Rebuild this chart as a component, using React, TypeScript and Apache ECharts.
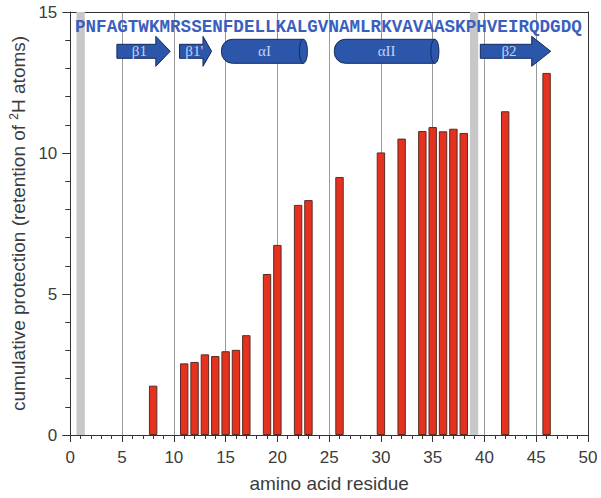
import React, { useEffect, useRef } from "react";
import * as echarts from "echarts";

// residue numbers and cumulative protection values
const residues = [8, 11, 12, 13, 14, 15, 16, 17, 19, 20, 22, 23, 26, 30, 32, 34, 35, 36, 37, 38, 42, 46];
const protection = [1.75, 2.54, 2.59, 2.86, 2.8, 2.97, 3.02, 3.54, 5.71, 6.74, 8.16, 8.33, 9.15, 10.02, 10.51, 10.78, 10.92, 10.77, 10.86, 10.71, 11.48, 12.84];

// shaded (proline) residues
const shadedResidues = [1, 39];

// sequence
const sequence = "PNFAGTWKMRSSENFDELLKALGVNAMLRKVAVAASKPHVEIRQDGDQ";

// secondary structure elements (residue ranges)
const ssStart = [4.5, 10.55, 14.6, 25.5, 39.6];
const ssEnd = [9.65, 13.65, 22.9, 35.6, 46.4];
const ssKind = ["strand", "strand", "helix", "helix", "strand"];
const ssLabel = ["β1", "β1'", "αI", "αII", "β2"];

const xTicks = [0, 5, 10, 15, 20, 25, 30, 35, 40, 45, 50];
const yTicks = [0, 5, 10, 15];

export default function App() {
  const ref = useRef<HTMLDivElement>(null);
  useEffect(() => {
    if (!ref.current) return;
    const chart = echarts.init(ref.current, undefined, { renderer: "svg" });
    const axisColor = "#333";
    const labelColor = "#3c3c3c";
    const fill = "#2b56aa";
    const stroke = "#15295c";
    const option: any = {
      animation: false,
      backgroundColor: "#fff",
      grid: { left: 68, top: 12, width: 520, height: 423, containLabel: false },
      xAxis: [
        {
          type: "value",
          min: xTicks[0],
          max: xTicks[xTicks.length - 1],
          interval: 5,
          name: "amino acid residue",
          nameLocation: "middle",
          nameGap: 39,
          nameTextStyle: { fontSize: 19, color: labelColor, fontFamily: "Liberation Sans" },
          axisLine: { show: true, lineStyle: { color: axisColor, width: 1 } },
          axisTick: { show: true, inside: false, length: 7, lineStyle: { color: axisColor } },
          minorTick: { show: true, splitNumber: 5, length: 4, lineStyle: { color: axisColor } },
          axisLabel: { fontSize: 17, color: labelColor, margin: 14, fontFamily: "Liberation Sans" },
          splitLine: { show: true, lineStyle: { color: "#9a9a9a", width: 1 } },
        },
        {
          type: "value",
          position: "top",
          min: 0,
          max: 50,
          axisLine: { show: true, onZero: false, lineStyle: { color: axisColor, width: 1 } },
          axisTick: { show: false },
          axisLabel: { show: false },
          splitLine: { show: false },
        },
      ],
      yAxis: [
        {
          type: "value",
          min: yTicks[0],
          max: yTicks[yTicks.length - 1],
          interval: 5,
          name: "cumulative protection (retention of {sup|2}H atoms)",
          nameLocation: "middle",
          nameGap: 36,
          nameTextStyle: {
            fontSize: 19,
            color: labelColor,
            fontFamily: "Liberation Sans",
            rich: {
              sup: { fontSize: 12, verticalAlign: "top", color: labelColor, fontFamily: "Liberation Sans", padding: [0, 0, 8, 0] },
            },
          },
          axisLine: { show: true, lineStyle: { color: axisColor, width: 1 } },
          axisTick: { show: true, inside: false, length: 8, lineStyle: { color: axisColor } },
          minorTick: { show: true, splitNumber: 5, length: 5, lineStyle: { color: axisColor } },
          axisLabel: { fontSize: 17, color: labelColor, margin: 13, fontFamily: "Liberation Sans" },
          splitLine: { show: false },
        },
        {
          type: "value",
          position: "right",
          min: 0,
          max: 15,
          axisLine: { show: true, onZero: false, lineStyle: { color: axisColor, width: 1 } },
          axisTick: { show: false },
          axisLabel: { show: false },
          splitLine: { show: false },
        },
      ],
      series: [
        {
          type: "bar",
          xAxisIndex: 0,
          yAxisIndex: 0,
          barWidth: 8.4,
          data: residues.map((r, i) => [r, protection[i]]),
          itemStyle: { color: "#e5321f", borderColor: "#5a2c24", borderWidth: 1 },
          markArea: {
            silent: true,
            itemStyle: { color: "#c8c8c8" },
            data: shadedResidues.map((r) => [{ xAxis: r - 0.4 }, { xAxis: r + 0.4 }]),
          },
          z: 3,
        },
        {
          type: "custom",
          xAxisIndex: 0,
          yAxisIndex: 0,
          clip: false,
          z: 5,
          data: ssStart.map((s, i) => [s, ssEnd[i]]),
          renderItem: (params: any, api: any) => {
            const i = params.dataIndex;
            const x0 = api.coord([api.value(0), 15])[0];
            const x1 = api.coord([api.value(1), 15])[0];
            const top = params.coordSys.y;
            const cy = top + 39.3;
            const children: any[] = [];
            let labelX = (x0 + x1) / 2;
            if (ssKind[i] === "strand") {
              const w = x1 - x0;
              const xh = x1 - 0.27 * w;
              const bh = 7;
              const hh = 15;
              children.push({
                type: "polygon",
                shape: {
                  points: [
                    [x0, cy - bh],
                    [xh, cy - bh],
                    [xh, cy - hh],
                    [x1, cy],
                    [xh, cy + hh],
                    [xh, cy + bh],
                    [x0, cy + bh],
                  ],
                },
                style: { fill, stroke, lineWidth: 1 },
              });
              labelX = (x0 + xh) / 2 + 3;
            } else {
              const rx = 4;
              const h = 12;
              children.push({
                type: "rect",
                shape: { x: x0, y: cy - h, width: x1 - rx - x0, height: 2 * h, r: [11, 0, 0, 11] },
                style: { fill, stroke, lineWidth: 1 },
              });
              children.push({
                type: "ellipse",
                shape: { cx: x1 - rx, cy, rx, ry: h },
                style: { fill, stroke, lineWidth: 1 },
              });
              labelX = (x0 + x1) / 2;
            }
            children.push({
              type: "text",
              x: labelX,
              y: cy,
              style: {
                text: ssLabel[i],
                fill: "#c5d1f2",
                font: "15px 'Liberation Serif'",
                align: "center",
                verticalAlign: "middle",
              },
            });
            return { type: "group", children };
          },
        },
      ],
      graphic: [
        {
          type: "text",
          x: 75,
          y: 27,
          z: 10,
          style: {
            text: sequence,
            fill: "#3a5fbf",
            font: "bold 17.6px 'Liberation Mono'",
            align: "left",
            verticalAlign: "middle",
          },
        },
      ],
    };
    chart.setOption(option);
    return () => chart.dispose();
  }, []);
  return (
    <div
      ref={ref}
      style={{ position: "absolute", left: 0, top: 0, width: 601, height: 498 }}
    />
  );
}
